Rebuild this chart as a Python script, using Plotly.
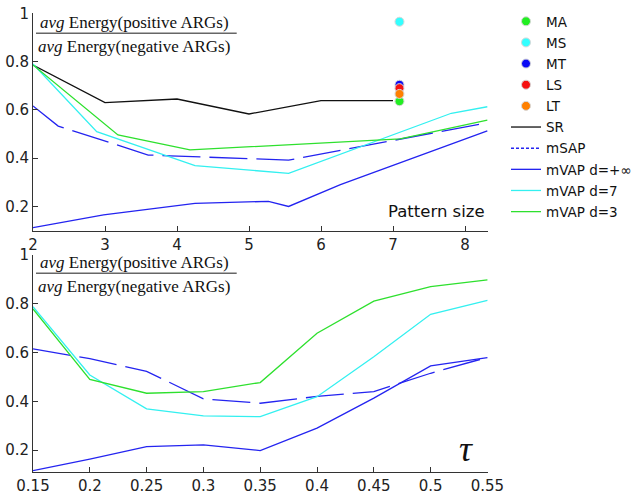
import plotly.graph_objects as go

# ---------------- data ----------------
# top panel: x = pattern size
sr_x = [2, 3, 4, 5, 6, 7]
sr_y = [0.786, 0.630, 0.645, 0.583, 0.638, 0.638]

msap_top_x = [2, 2.35, 3.6, 5.55, 8.28]
msap_top_y = [0.616, 0.533, 0.413, 0.392, 0.545]

vinf_top_x = [2, 2.98, 4.25, 5.27, 5.55, 6.27, 8.31]
vinf_top_y = [0.112, 0.165, 0.213, 0.221, 0.200, 0.290, 0.513]

v7_top_x = [2, 2.885, 4.25, 5.55, 7.81, 8.31]
v7_top_y = [0.790, 0.510, 0.369, 0.337, 0.586, 0.613]

v3_top_x = [2, 3.18, 4.18, 7.10, 8.31]
v3_top_y = [0.786, 0.496, 0.434, 0.480, 0.558]

point_names = ["MA", "MS", "MT", "LS", "LT"]
point_x = [7.09, 7.09, 7.09, 7.09, 7.09]
point_y = [0.636, 0.965, 0.704, 0.690, 0.666]

# bottom panel: x = tau
tau = [0.15, 0.20, 0.25, 0.30, 0.35, 0.40, 0.45, 0.50, 0.55]
msap_b = [0.615, 0.575, 0.523, 0.410, 0.392, 0.420, 0.440, 0.515, 0.580]
vinf_b = [0.116, 0.163, 0.214, 0.221, 0.198, 0.290, 0.413, 0.545, 0.579]
v7_b = [0.788, 0.508, 0.369, 0.340, 0.337, 0.419, 0.583, 0.757, 0.814]
v3_b = [0.779, 0.490, 0.433, 0.440, 0.477, 0.679, 0.811, 0.870, 0.898]

top_xticks = [2, 3, 4, 5, 6, 7, 8]
bot_xticks = [0.15, 0.2, 0.25, 0.3, 0.35, 0.4, 0.45, 0.5, 0.55]
bot_xticklabels = ["0.15", "0.2", "0.25", "0.3", "0.35", "0.4", "0.45", "0.5", "0.55"]
yticks = [0.2, 0.4, 0.6, 0.8, 1.0]
yticklabels = ["0.2", "0.4", "0.6", "0.8", "1"]

# ---------------- style ----------------
W, H = 633, 498
L, R, T, B = 33, 145, 13, 26
C_GREEN = "#2ee02e"
C_CYAN = "#33f0f0"
C_BLUE = "#2424f0"
C_BLACK = "#111111"
PT_COLORS = ["#22ee22", "#33ffff", "#0a0af5", "#f51010", "#ff8000"]
LW = 1.3
DASH = "38px,9px"
SANS = "DejaVu Sans, sans-serif"
SERIF = "Liberation Serif, Times New Roman, serif"


def px_x(px):  # page pixel -> paper fraction
    return (px - L) / (W - L - R)


def px_y(py):
    return (H - B - py) / (H - T - B)


fig = go.Figure()

# points (legend first)
for i, (nm, xx, yy) in enumerate(zip(point_names, point_x, point_y)):
    fig.add_trace(go.Scatter(x=[xx], y=[yy], mode="markers", name=nm, legendgroup=nm,
                             marker=dict(color=PT_COLORS[i], size=9,
                                         line=dict(color="#d8d8d8", width=1)),
                             xaxis="x", yaxis="y"))

# top lines
fig.add_trace(go.Scatter(x=sr_x, y=sr_y, mode="lines", name="SR", legendgroup="SR",
                         line=dict(color=C_BLACK, width=LW), xaxis="x", yaxis="y"))
# legend-only entry for mSAP (dotted in legend)
fig.add_trace(go.Scatter(x=[None], y=[None], mode="lines", name="mSAP", legendgroup="mSAP",
                         line=dict(color=C_BLUE, width=1.6, dash="3px,2px"), xaxis="x", yaxis="y"))
fig.add_trace(go.Scatter(x=msap_top_x, y=msap_top_y, mode="lines", showlegend=False, legendgroup="mSAP",
                         line=dict(color=C_BLUE, width=LW, dash=DASH), xaxis="x", yaxis="y"))
fig.add_trace(go.Scatter(x=vinf_top_x, y=vinf_top_y, mode="lines", name="mVAP d=+∞", legendgroup="vinf",
                         line=dict(color=C_BLUE, width=LW), xaxis="x", yaxis="y"))
fig.add_trace(go.Scatter(x=v7_top_x, y=v7_top_y, mode="lines", name="mVAP d=7", legendgroup="v7",
                         line=dict(color=C_CYAN, width=LW), xaxis="x", yaxis="y"))
fig.add_trace(go.Scatter(x=v3_top_x, y=v3_top_y, mode="lines", name="mVAP d=3", legendgroup="v3",
                         line=dict(color=C_GREEN, width=LW), xaxis="x", yaxis="y"))

# bottom lines
fig.add_trace(go.Scatter(x=tau, y=msap_b, mode="lines", showlegend=False, legendgroup="mSAP",
                         line=dict(color=C_BLUE, width=LW, dash=DASH), xaxis="x2", yaxis="y2"))
fig.add_trace(go.Scatter(x=tau, y=vinf_b, mode="lines", showlegend=False, legendgroup="vinf",
                         line=dict(color=C_BLUE, width=LW), xaxis="x2", yaxis="y2"))
fig.add_trace(go.Scatter(x=tau, y=v7_b, mode="lines", showlegend=False, legendgroup="v7",
                         line=dict(color=C_CYAN, width=LW), xaxis="x2", yaxis="y2"))
fig.add_trace(go.Scatter(x=tau, y=v3_b, mode="lines", showlegend=False, legendgroup="v3",
                         line=dict(color=C_GREEN, width=LW), xaxis="x2", yaxis="y2"))

axis_common = dict(showgrid=False, zeroline=False, showline=True, linecolor="#333333",
                   linewidth=1, ticks="inside", ticklen=5, tickcolor="#333333",
                   tickfont=dict(family=SANS, size=15, color="#222222"), mirror=False,
                   automargin=False)

top_dom = [px_y(230.6), px_y(13.3)]
bot_dom = [0, px_y(255)]

fig.update_layout(
    template="none",
    width=W, height=H,
    margin=dict(l=L, r=R, t=T, b=B, autoexpand=False),
    paper_bgcolor="white", plot_bgcolor="white",
    xaxis=dict(domain=[0, 1], range=[2, 2 + 455 / 72], tickvals=top_xticks, anchor="y", **axis_common),
    yaxis=dict(domain=top_dom, range=[0.1, 1.0], tickvals=yticks, ticktext=yticklabels,
               anchor="x", **axis_common),
    xaxis2=dict(domain=[0, 1], range=[0.15, 0.5505], tickvals=bot_xticks, ticktext=bot_xticklabels,
                anchor="y2", **axis_common),
    yaxis2=dict(domain=bot_dom, range=[0.11, 1.0], tickvals=yticks, ticktext=yticklabels,
                anchor="x2", **axis_common),
    showlegend=True,
    legend=dict(x=px_x(506), y=1 - 6 / H, xref="paper", yref="container",
                xanchor="left", yanchor="top",
                font=dict(family=SANS, size=13.5, color="#111111"),
                bgcolor="rgba(0,0,0,0)", borderwidth=0, traceorder="grouped",
                itemwidth=30, tracegroupgap=0.6),
)

# fraction labels
frac_font = dict(family=SERIF, size=17, color="#111111")
ann = []
shapes = []
for (ny, ly, dy) in [(22.7, 33.3, 46.7), (262.7, 273.3, 286.7)]:
    ann.append(dict(x=px_x(38), y=px_y(ny), xref="paper", yref="paper", xanchor="left",
                    yanchor="middle", showarrow=False, text="<i>avg</i> Energy(positive ARGs)",
                    font=frac_font))
    ann.append(dict(x=px_x(36), y=px_y(dy), xref="paper", yref="paper", xanchor="left",
                    yanchor="middle", showarrow=False, text="<i>avg</i> Energy(negative ARGs)",
                    font=frac_font))
    shapes.append(dict(type="line", xref="paper", yref="paper", x0=px_x(36), x1=px_x(236.7),
                       y0=px_y(ly), y1=px_y(ly), line=dict(color="#666666", width=1.5)))

ann.append(dict(x=px_x(487), y=px_y(211.7), xref="paper", yref="paper", xanchor="right",
                yanchor="middle", showarrow=False, text="Pattern size",
                font=dict(family=SANS, size=16.5, color="#111111")))
ann.append(dict(x=px_x(466), y=px_y(449), xref="paper", yref="paper", xanchor="center",
                yanchor="middle", showarrow=False, text="<i>τ</i>",
                font=dict(family=SERIF, size=36, color="#111111")))

fig.update_layout(annotations=ann, shapes=shapes)

fig.write_html("out.html", config={"displayModeBar": False},
               post_script="document.body.style.margin='0px';")
